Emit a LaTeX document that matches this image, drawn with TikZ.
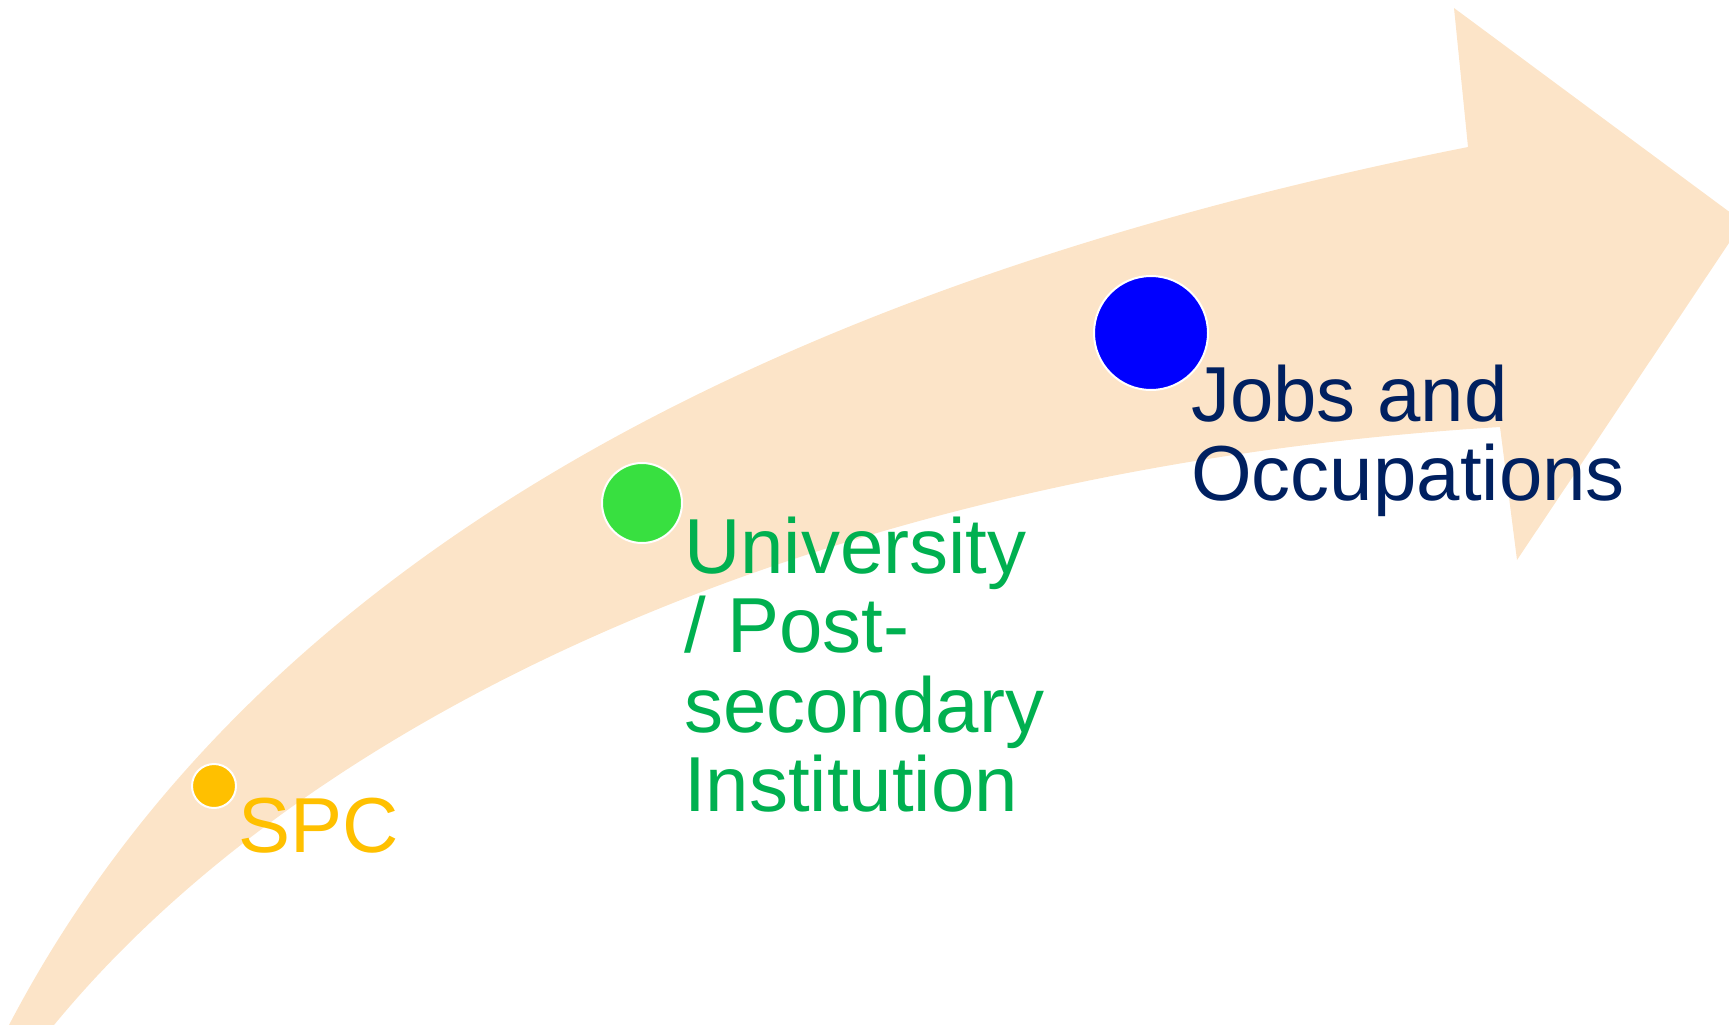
\documentclass[tikz,border=0pt]{standalone}
\usepackage{fontspec}
\setmainfont{Liberation Sans}
\definecolor{peach}{HTML}{FCE4C8}
\definecolor{spcgold}{HTML}{FFC000}
\definecolor{unigreen}{HTML}{00B050}
\definecolor{unidot}{HTML}{38E040}
\definecolor{jobnavy}{HTML}{002060}
\definecolor{jobdot}{HTML}{0000FF}
\tikzset{
  dot/.style={circle, inner sep=0pt, draw=white, line width=2pt},
  label/.style={anchor=base west, inner sep=0pt, font=\fontsize{78}{77}\selectfont},
}
\begin{document}
\begin{tikzpicture}[x=1pt, y=-1pt]
\useasboundingbox (0,0) rectangle (1729,1025);
\begin{scope}
\clip (0,0) rectangle (1729,1025);
\fill[peach] (-3,1045) -- (9,1025) .. controls (246,572) and (749,290) .. (1468,147)
  -- (1454,8) -- (1743,222) -- (1517,560) -- (1500,427)
  .. controls (860,466) and (326,695) .. (54,1025) -- (36,1045) -- cycle;
\end{scope}
\node[dot, fill=spcgold, minimum size=44pt] (spcdot) at (214,786) {};
\node[dot, fill=unidot, minimum size=80pt] (unidot) at (642,503) {};
\node[dot, fill=jobdot, minimum size=114pt] (jobdot) at (1151,333) {};
\node[label, text=spcgold] (spc) at (238,852) {SPC};
\node[label, text=unigreen] (uni) at (684,573) {\begin{tabular}[t]{@{}l@{}}University\\/ Post-\\secondary\\Institution\end{tabular}};
\node[label, text=jobnavy] (jobs) at (1191,421) {\begin{tabular}[t]{@{}l@{}}Jobs and\\Occupations\end{tabular}};
\end{tikzpicture}
\end{document}
